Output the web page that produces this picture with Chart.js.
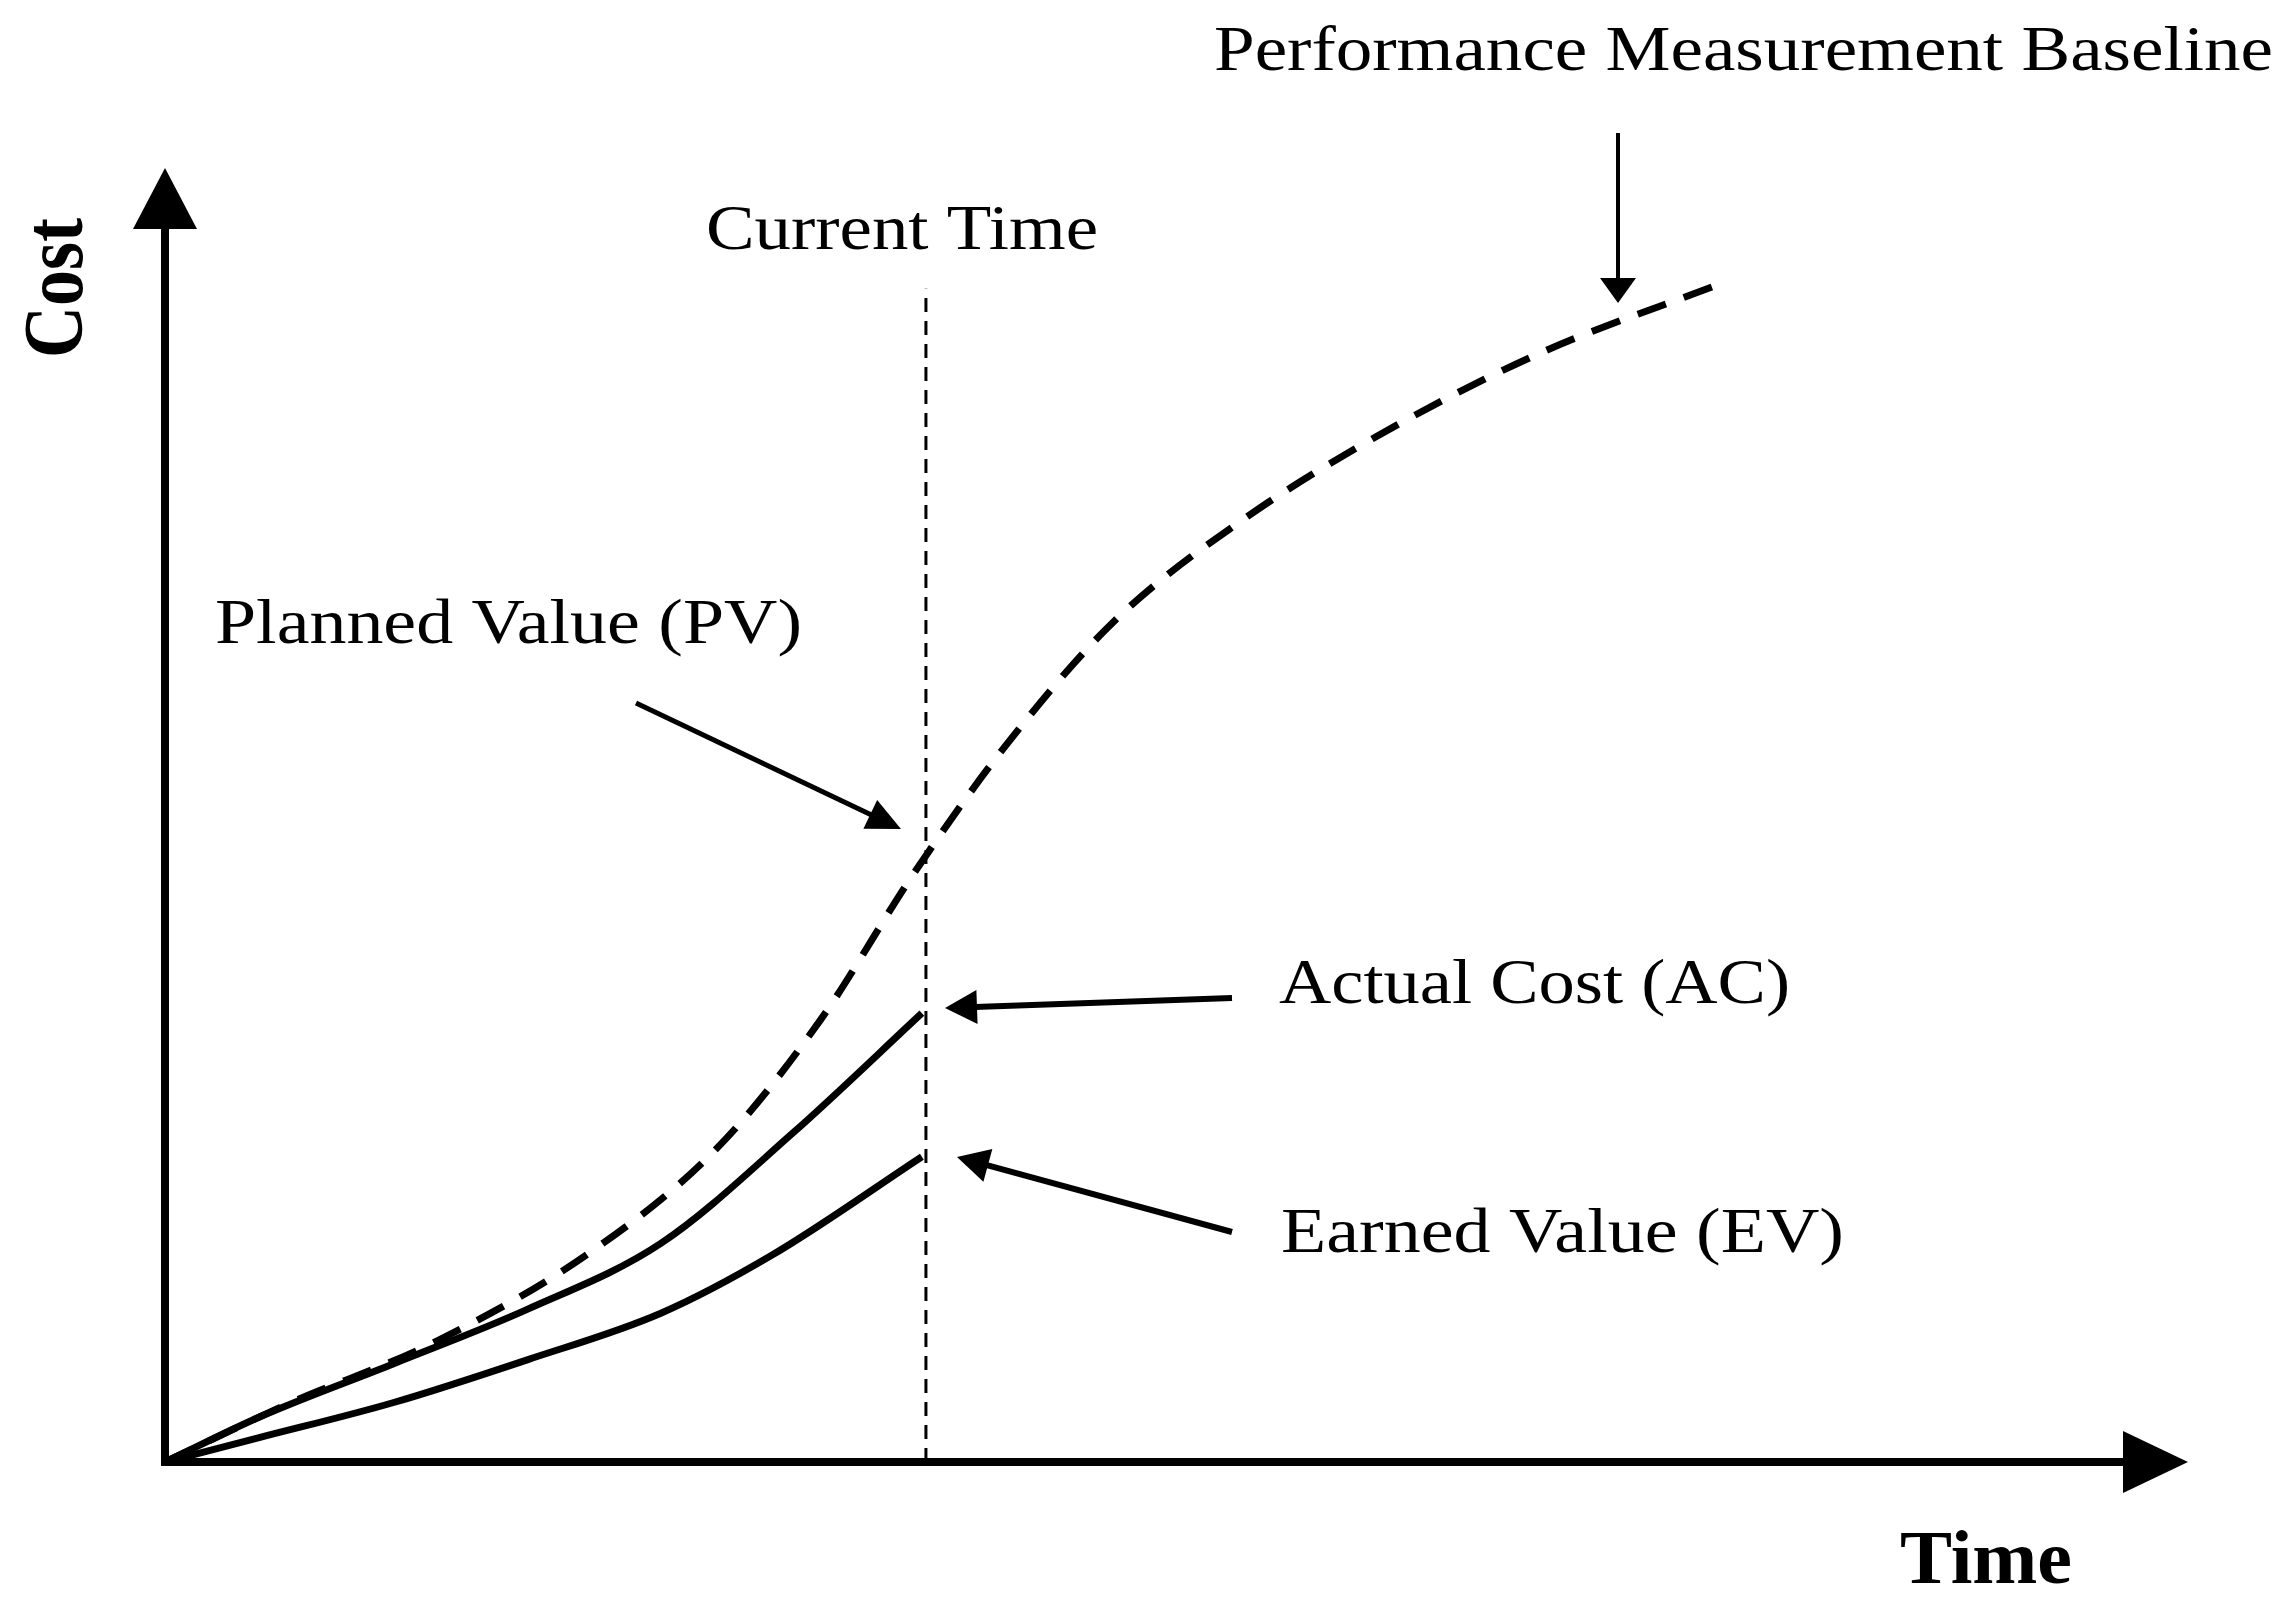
<!DOCTYPE html>
<html>
<head>
<meta charset="utf-8">
<script src="https://cdn.jsdelivr.net/npm/chart.js@4/dist/chart.umd.min.js"></script>
<style>
  html, body { margin: 0; padding: 0; background: #fff; }
  canvas { display: block; }
</style>
</head>
<body>
<canvas id="evm-chart" width="2293" height="1606"></canvas>
<script>
// time / cost (same units on both axes, 0 at the origin)
var pvTime = [0, 5.8, 13.5, 21.0, 27.3, 32.4, 37.0, 41.5, 46.9, 53.4, 60.8, 68.2, 76.7];
var pvCost = [0, 4.3, 9.4, 16.2, 24.3, 34.2, 45.5, 55.3, 65.0, 73.0, 80.1, 85.9, 91.0];

var acTime = [0, 4.7, 11.3, 17.9, 24.5, 31.0, 37.4];
var acCost = [0, 3.5, 7.6, 11.8, 16.9, 25.4, 34.7];

var evTime = [0, 4.7, 11.3, 17.9, 24.5, 30.0, 37.4];
var evCost = [0, 1.9, 4.6, 7.9, 11.5, 16.0, 23.6];

var currentTime = 37.6;
var currentTimeTop = 90.7;

var timeMax = 96.8;
var costMax = 95.4;

function toPoints(xs, ys) {
    return xs.map(function (x, i) { return {x: x, y: ys[i]}; });
}

var serif = '"Liberation Serif", "Times New Roman", serif';

// draw text squeezed/stretched to the width it has in the picture
function fitText(ctx, txt, x, y, w, font, rot, sy) {
    ctx.save();
    ctx.font = font;
    ctx.fillStyle = '#000';
    ctx.textBaseline = 'alphabetic';
    ctx.textAlign = 'left';
    var m = ctx.measureText(txt).width;
    ctx.translate(x, y);
    if (rot) ctx.rotate(rot);
    ctx.scale(w / m, sy || 1);
    ctx.fillText(txt, 0, 0);
    ctx.restore();
}

function arrow(ctx, x1, y1, x2, y2, lw, len, half) {
    var a = Math.atan2(y2 - y1, x2 - x1);
    var bx = x2 - Math.cos(a) * len, by = y2 - Math.sin(a) * len;
    ctx.save();
    ctx.strokeStyle = '#000';
    ctx.fillStyle = '#000';
    if (lw) {
        ctx.lineWidth = lw;
        ctx.beginPath();
        ctx.moveTo(x1, y1);
        ctx.lineTo(bx + Math.cos(a) * 2, by + Math.sin(a) * 2);
        ctx.stroke();
    }
    ctx.beginPath();
    ctx.moveTo(x2, y2);
    ctx.lineTo(bx + Math.sin(a) * half, by - Math.cos(a) * half);
    ctx.lineTo(bx - Math.sin(a) * half, by + Math.cos(a) * half);
    ctx.closePath();
    ctx.fill();
    ctx.restore();
}

var notes = {
    id: 'notes',
    afterDraw: function (chart) {
        var ctx = chart.ctx;
        var area = chart.chartArea;

        // axis arrow heads, just past the ends of the axis lines
        arrow(ctx, area.left, area.top, area.left, area.top - 60, 0, 61, 32);
        arrow(ctx, area.right, area.bottom, area.right + 64, area.bottom, 0, 65, 31);

        // axis titles
        fitText(ctx, 'Cost', 82, 358, 140, 'bold 72px ' + serif, -Math.PI / 2, 1.18);
        fitText(ctx, 'Time', 1900, 1583, 172, 'bold 76px ' + serif);

        // labels
        var f = '64px ' + serif;
        fitText(ctx, 'Performance Measurement Baseline', 1214, 70, 1059, f);
        fitText(ctx, 'Current Time', 706, 249, 392, f);
        fitText(ctx, 'Planned Value (PV)', 215, 643, 587, f);
        fitText(ctx, 'Actual Cost (AC)', 1279, 1003, 511, f);
        fitText(ctx, 'Earned Value (EV)', 1281, 1252, 563, f);

        // pointer arrows
        arrow(ctx, 1618, 133, 1618, 303, 4, 25, 18);
        arrow(ctx, 636, 703, 901, 829, 5, 34, 16);
        arrow(ctx, 1232, 998, 945, 1008, 6, 32, 17);
        arrow(ctx, 1232, 1232, 957, 1157, 6, 32, 17);
    }
};

var ctx = document.getElementById('evm-chart');
var evmChart = new Chart(ctx, {
    type: 'line',
    data: {
        datasets: [{
            label: 'Planned Value (PV)',
            data: toPoints(pvTime, pvCost),
            borderColor: '#000',
            borderWidth: 7,
            borderDash: [30, 19],
            pointRadius: 0,
            cubicInterpolationMode: 'monotone'
        },
            {
                label: 'Actual Cost (AC)',
                data: toPoints(acTime, acCost),
                borderColor: '#000',
                borderWidth: 7,
                pointRadius: 0,
                cubicInterpolationMode: 'monotone'
            },
            {
                label: 'Earned Value (EV)',
                data: toPoints(evTime, evCost),
                borderColor: '#000',
                borderWidth: 7,
                pointRadius: 0,
                cubicInterpolationMode: 'monotone'
            },
            {
                label: 'Current Time',
                data: [{x: currentTime, y: 0}, {x: currentTime, y: currentTimeTop}],
                borderColor: '#000',
                borderWidth: 3,
                borderDash: [14, 9],
                pointRadius: 0
            }
        ]
    },
    options: {
        responsive: false,
        animation: false,
        devicePixelRatio: 1,
        layout: {padding: {left: 165, top: 228, right: 169, bottom: 144}},
        plugins: {legend: {display: false}, tooltip: {enabled: false}},
        scales: {
            x: {
                type: 'linear', min: 0, max: timeMax,
                grid: {display: false, drawTicks: false},
                ticks: {display: false},
                border: {display: true, color: '#000', width: 8}
            },
            y: {
                type: 'linear', min: 0, max: costMax,
                grid: {display: false, drawTicks: false},
                ticks: {display: false},
                border: {display: true, color: '#000', width: 8}
            }
        }
    },
    plugins: [notes]
});
</script>
</body>
</html>
